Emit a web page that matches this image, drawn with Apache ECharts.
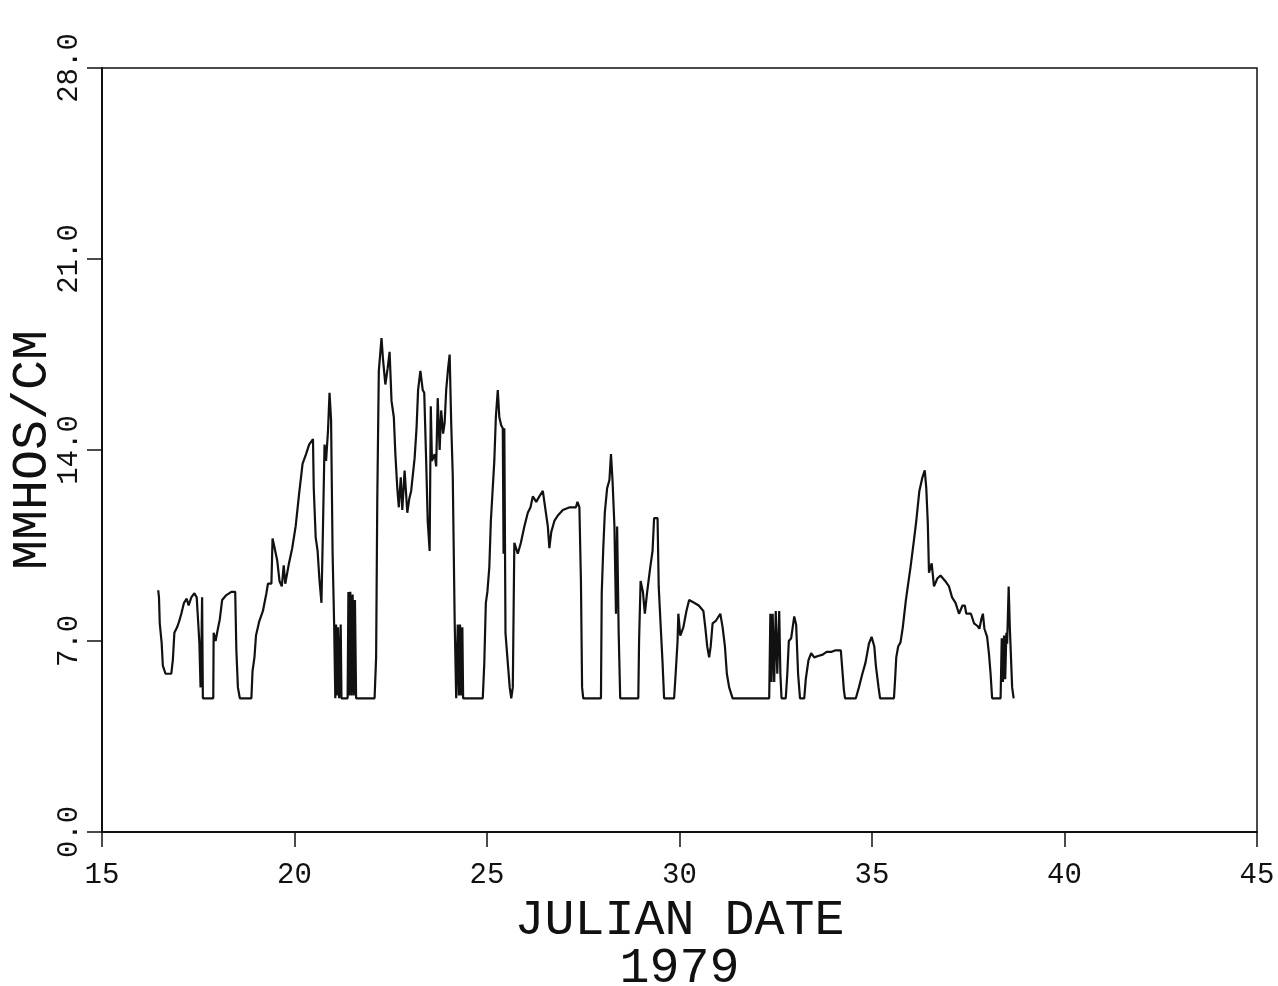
<!DOCTYPE html>
<html>
<head>
<meta charset="utf-8">
<script src="https://cdn.jsdelivr.net/npm/echarts@6/dist/echarts.min.js"></script>
<style>
html,body{margin:0;padding:0;background:#fff;}
#chart{width:1278px;height:986px;}
</style>
</head>
<body>
<div id="chart"></div>
<script>
// Julian date (1979) and conductivity (MMHOS/CM)
const julianDate = [
16.46,16.48,16.50,16.55,16.58,16.65,16.80,16.84,16.88,16.95,17.00,17.06,17.13,17.20,17.25,17.32,17.40,17.46,17.50,17.53,17.56,17.58,17.60,17.62,17.89,17.90,17.95,17.99,18.06,18.12,18.22,18.36,18.46,18.49,18.53,18.58,18.88,18.91,18.96,19.00,19.08,19.18,19.27,19.31,19.40,19.43,19.47,19.55,19.61,19.67,19.72,19.76,19.85,19.94,20.03,20.12,20.21,20.30,20.38,20.48,20.50,20.55,20.60,20.65,20.70,20.74,20.78,20.82,20.87,20.91,20.95,20.99,21.03,21.06,21.08,21.10,21.13,21.16,21.20,21.22,21.38,21.40,21.42,21.45,21.48,21.51,21.54,21.57,21.60,22.08,22.12,22.15,22.19,22.26,22.30,22.36,22.42,22.47,22.52,22.58,22.62,22.67,22.71,22.76,22.80,22.86,22.93,22.98,23.03,23.12,23.17,23.21,23.27,23.33,23.37,23.42,23.46,23.51,23.54,23.57,23.64,23.68,23.72,23.77,23.81,23.86,23.90,23.94,23.99,24.03,24.07,24.11,24.16,24.20,24.24,24.27,24.30,24.33,24.36,24.38,24.89,24.93,24.97,25.01,25.06,25.10,25.19,25.23,25.28,25.32,25.37,25.41,25.43,25.45,25.48,25.54,25.59,25.63,25.67,25.71,25.80,25.88,25.97,26.06,26.13,26.19,26.28,26.36,26.45,26.51,26.58,26.62,26.67,26.75,26.84,26.97,27.15,27.31,27.35,27.40,27.44,27.47,27.50,27.96,27.98,28.02,28.06,28.12,28.18,28.22,28.26,28.31,28.35,28.38,28.42,28.46,28.93,28.95,28.99,29.05,29.10,29.16,29.24,29.30,29.34,29.43,29.46,29.52,29.56,29.60,29.86,29.90,29.95,29.97,30.02,30.10,30.18,30.25,30.38,30.50,30.62,30.67,30.72,30.77,30.81,30.86,30.95,31.06,31.12,31.18,31.23,31.29,31.38,32.33,32.36,32.39,32.42,32.46,32.50,32.54,32.59,32.62,32.65,32.76,32.80,32.84,32.90,32.98,33.03,33.08,33.13,33.24,33.28,33.35,33.42,33.50,33.60,33.72,33.82,33.94,34.05,34.19,34.23,34.27,34.30,34.58,34.66,34.75,34.83,34.92,34.99,35.06,35.10,35.17,35.21,35.57,35.60,35.63,35.68,35.74,35.80,35.88,35.94,36.00,36.09,36.15,36.23,36.31,36.37,36.41,36.45,36.48,36.55,36.61,36.70,36.78,36.90,37.00,37.08,37.17,37.26,37.35,37.41,37.45,37.57,37.65,37.74,37.79,37.84,37.88,37.92,37.99,38.04,38.08,38.12,38.34,38.37,38.40,38.43,38.46,38.49,38.51,38.55,38.58,38.64,38.68
];
const conductivity = [
8.86,8.6,7.65,6.92,6.1,5.8,5.8,6.3,7.3,7.5,7.7,8.0,8.4,8.55,8.3,8.6,8.75,8.6,7.65,6.9,5.3,6.5,8.6,4.9,4.9,7.3,7.0,7.3,7.8,8.5,8.67,8.8,8.8,6.66,5.3,4.9,4.9,5.9,6.4,7.2,7.7,8.1,8.75,9.1,9.1,10.76,10.5,9.96,9.2,9.0,9.77,9.1,9.8,10.4,11.2,12.4,13.5,13.85,14.2,14.4,12.6,10.8,10.3,9.2,8.4,11.2,14.2,13.6,14.7,16.1,15.1,10.2,7.6,4.9,7.6,5.0,7.5,4.9,7.6,4.9,4.9,8.8,5.0,8.8,5.0,8.7,5.0,8.5,4.9,4.9,6.4,12.15,16.9,18.1,17.3,16.4,17.0,17.6,15.8,15.2,13.85,12.6,11.9,13.0,11.8,13.25,11.7,12.2,12.5,13.7,14.8,16.2,16.9,16.2,16.1,13.6,11.4,10.3,15.6,13.6,13.85,13.4,15.9,14.0,15.45,14.6,15.0,16.2,17.0,17.5,15.0,13.1,7.76,4.9,7.6,5.0,7.6,5.0,7.5,4.9,4.9,6.2,8.4,8.8,9.7,11.4,13.6,15.2,16.2,15.2,14.9,14.8,10.2,14.8,7.3,6.2,5.3,4.9,5.3,10.6,10.2,10.6,11.2,11.7,11.9,12.3,12.1,12.3,12.5,11.9,11.2,10.4,11.0,11.4,11.6,11.8,11.9,11.9,12.1,11.9,9.2,5.3,4.9,4.9,8.75,10.4,11.7,12.6,12.9,13.85,12.9,11.2,8.0,11.2,7.3,4.9,4.9,7.0,9.2,8.8,8.0,8.8,9.7,10.3,11.5,11.5,9.0,7.3,6.2,4.9,4.9,5.8,7.0,8.0,7.2,7.5,8.1,8.5,8.4,8.3,8.1,7.5,6.8,6.4,6.8,7.65,7.75,8.0,7.5,6.8,5.8,5.3,4.9,4.9,8.0,5.5,8.0,5.5,8.1,5.8,8.1,5.8,4.9,4.9,5.8,7.0,7.1,7.9,7.6,5.8,4.9,4.9,5.6,6.3,6.55,6.4,6.45,6.5,6.6,6.6,6.66,6.66,5.93,5.2,4.9,4.9,5.3,5.8,6.2,6.9,7.15,6.8,6.1,5.3,4.9,4.9,5.6,6.4,6.8,6.95,7.5,8.5,9.1,9.7,10.7,11.4,12.5,13.0,13.25,12.6,11.3,9.5,9.85,9.0,9.3,9.4,9.2,9.0,8.6,8.4,8.0,8.3,8.3,8.0,8.0,7.65,7.55,7.45,7.8,8.0,7.45,7.15,6.5,5.8,4.9,4.9,7.1,5.5,7.2,5.6,7.3,6.9,9.0,7.5,5.3,4.9
];
const xTicks = [15, 20, 25, 30, 35, 40, 45];
const yTicks = [0, 7, 14, 21, 28];
const xTitle = 'JULIAN DATE\n1979';
const yTitle = 'MMHOS/CM';

const points = julianDate.map((d, i) => [d, conductivity[i]]);
const FONT = '"Liberation Mono", "DejaVu Sans Mono", monospace';

const chart = echarts.init(document.getElementById('chart'), null, {renderer: 'canvas'});
chart.setOption({
  backgroundColor: '#fff',
  animation: false,
  grid: {left: 102, top: 68, width: 1155, height: 764, containLabel: false, outerBoundsMode: 'none',
    show: true, borderColor: '#111', borderWidth: 1.5, backgroundColor: 'transparent'},
  xAxis: {
    type: 'value', min: xTicks[0], max: xTicks[xTicks.length - 1], interval: 5,
    axisLine: {lineStyle: {color: '#111', width: 2}},
    axisTick: {show: true, inside: false, length: 15, lineStyle: {color: '#111', width: 1.5}},
    axisLabel: {color: '#111', fontFamily: FONT, fontSize: 29, margin: 29},
    splitLine: {show: false},
    name: xTitle, nameLocation: 'middle', nameGap: 65, nameMoveOverlap: false,
    nameTextStyle: {color: '#111', fontFamily: FONT, fontSize: 50, lineHeight: 48}
  },
  yAxis: {
    type: 'value', min: yTicks[0], max: yTicks[yTicks.length - 1], interval: 7,
    axisLine: {show: true, lineStyle: {color: '#111', width: 2}},
    axisTick: {show: true, inside: false, length: 15, lineStyle: {color: '#111', width: 1.5}},
    axisLabel: {color: '#111', fontFamily: FONT, fontSize: 29, rotate: 90, margin: 18,
      formatter: v => v.toFixed(1)},
    splitLine: {show: false},
    name: yTitle, nameLocation: 'middle', nameGap: 44, nameRotate: 90, nameMoveOverlap: false,
    nameTextStyle: {color: '#111', fontFamily: FONT, fontSize: 50}
  },
  series: [{
    type: 'line', data: points, showSymbol: false, symbol: 'none',
    lineStyle: {color: '#111', width: 2.2}
  }]
});
</script>
</body>
</html>
